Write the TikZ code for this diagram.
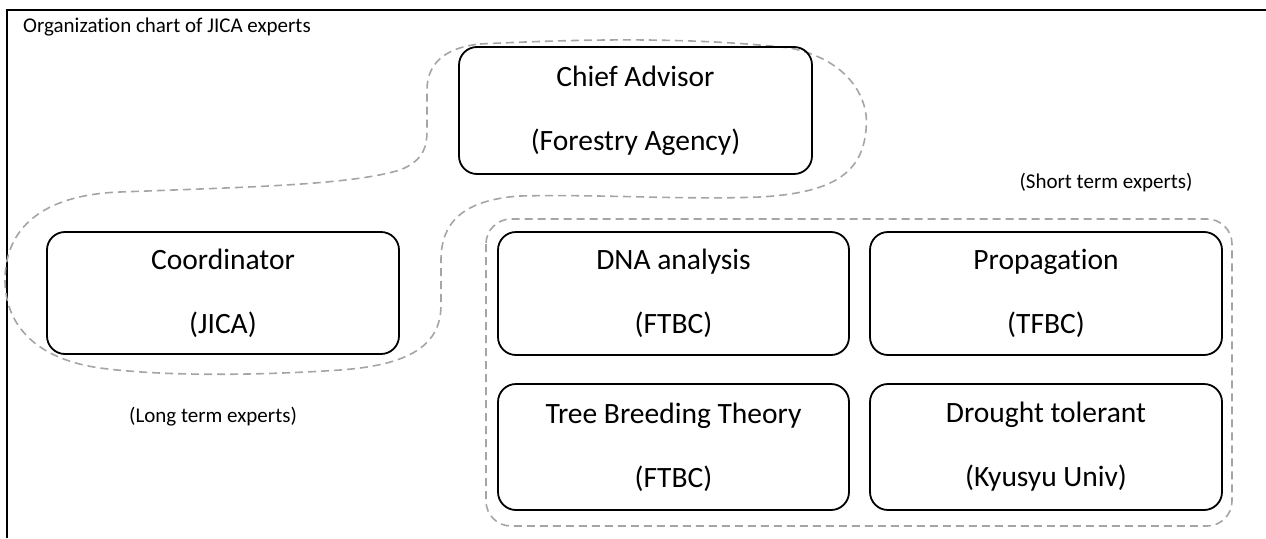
\documentclass[tikz,border=0pt]{standalone}
\usepackage{fontspec}
\setmainfont{Carlito}[Ligatures={NoCommon,NoRare}]
\definecolor{dashgray}{RGB}{165,165,165}
\tikzset{
  boxnode/.style={draw=black, line width=1.8pt, rounded corners=18pt, inner sep=0pt, align=center,
    font=\fontsize{29.5}{64}\selectfont},
  grouping/.style={draw=dashgray, line width=1.6pt, dash pattern=on 8pt off 5pt},
  caption/.style={font=\fontsize{21}{25}\selectfont, inner sep=0pt},
  frameline/.style={line width=2.7pt}
}
\begin{document}
\begin{tikzpicture}[x=1pt,y=-1pt]
\useasboundingbox (0,0) rectangle (1266,538);
% frame
\draw[frameline] (7,538) -- (7,10) -- (1266,10);
% title
\node[caption, anchor=base west] (title) at (23,32) {Organization chart of JICA experts};
% long-term grouping blob
\draw[grouping] (480,44)
  .. controls (600,38) and (700,38) .. (790,48)
  .. controls (850,60) and (870,100) .. (866,130)
  .. controls (862,175) and (830,193) .. (760,197)
  .. controls (680,200) and (600,194) .. (520,196)
  .. controls (460,200) and (441,225) .. (441,260)
  -- (441,305)
  .. controls (441,345) and (410,365) .. (340,370)
  .. controls (250,376) and (160,376) .. (100,368)
  .. controls (30,358) and (5,320) .. (5,280)
  .. controls (5,230) and (40,195) .. (120,192)
  .. controls (250,187) and (350,185) .. (400,170)
  .. controls (425,160) and (427,145) .. (427,130)
  -- (427,90)
  .. controls (427,60) and (450,47) .. cycle;
% short-term grouping
\draw[grouping, rounded corners=25pt] (486,219) rectangle (1232,526);
% boxes
\node[boxnode, minimum width=353pt, minimum height=127pt] (chief) at (635.5,110.5) {Chief Advisor\\(Forestry Agency)};
\node[boxnode, minimum width=352pt, minimum height=122pt] (coord) at (223,293) {Coordinator\\(JICA)};
\node[boxnode, minimum width=351pt, minimum height=123pt] (dna) at (673.5,293.5) {DNA analysis\\(FTBC)};
\node[boxnode, minimum width=352pt, minimum height=123pt] (prop) at (1046,293.5) {Propagation\\(TFBC)};
\node[boxnode, minimum width=351pt, minimum height=126pt] (tree) at (673.5,447) {Tree Breeding Theory\\(FTBC)};
\node[boxnode, minimum width=352pt, minimum height=126pt] (drought) at (1046,447) {Drought tolerant\\(Kyusyu Univ)};
% captions
\node[caption] (longterm) at (213,417) {(Long term experts)};
\node[caption] (shortterm) at (1106,183) {(Short term experts)};
\end{tikzpicture}
\end{document}
